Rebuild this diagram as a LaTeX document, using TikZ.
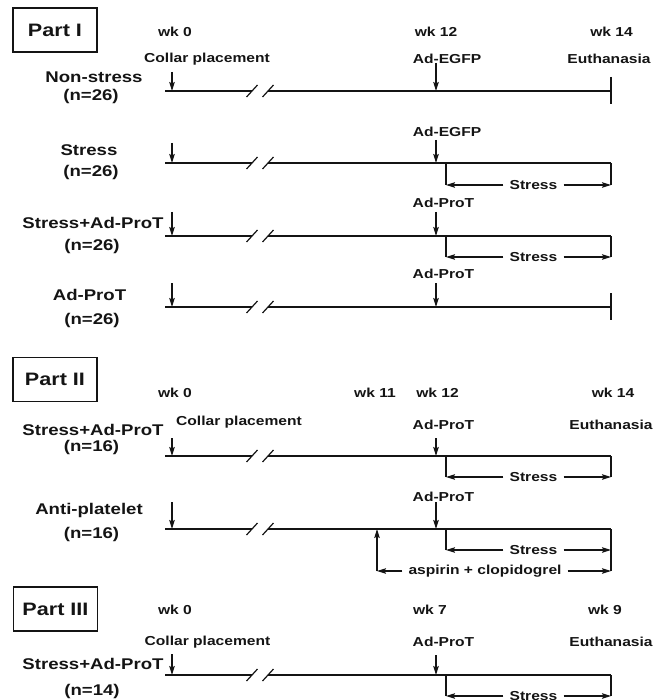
\documentclass[tikz,border=0pt]{standalone}
\usepackage{fontspec}
\setmainfont{Liberation Sans}[FakeStretch=1.2]
\usetikzlibrary{arrows.meta,calc}
\definecolor{ink}{RGB}{20,20,20}
\tikzset{
  every picture/.style={color=ink, x=1pt, y=-1pt},
  part/.style={draw=ink, line width=1.2pt, minimum width=84pt, minimum height=44pt, font=\fontsize{18}{20}\selectfont\bfseries},
  grp/.style={font=\fontsize{15.5}{18}\selectfont\bfseries, inner sep=0pt},
  lbl/.style={font=\fontsize{13}{15}\selectfont\bfseries, inner sep=0pt},
  gap/.style={lbl, inner xsep=6pt},
  tline/.style={line width=2pt},
  cut/.style={line width=1.2pt},
  brk/.style={line width=1.5pt},
  pin/.style={-{Stealth[length=9pt,width=5.5pt,inset=1.5pt]}, line width=1.2pt},
}

\begin{document}
\begin{tikzpicture}
  \useasboundingbox (0,0) rectangle (654,700);
  % part boxes
  \node[part] (P1) at (55,30) {Part I};
  \node[part] (P2) at (55,379.5) {Part II};
  \node[part] (P3) at (55.5,609) {Part III};
  % time axes, broken between wk 0 and the injection
  \foreach \r/\y in {r1/91,r2/163,r3/236,r4/307,r5/456,r6/529,r7/675} {
    \coordinate (\r-s) at (165,\y);
    \coordinate (\r-a) at (252,\y);
    \coordinate (\r-b) at (268,\y);
    \coordinate (\r-e) at (611,\y);
    \draw[tline] (\r-s) -- (\r-a);
    \draw[tline] (\r-b) -- (\r-e);
    \draw[cut] ($(\r-a)+(-5.5,6)$) -- ++(11,-12);
    \draw[cut] ($(\r-b)+(-5.5,6)$) -- ++(11,-12);
  }
  % group names
  \node[grp] (g1) at (94,77) {Non-stress};
  \node[grp] (g1n) at (91,96) {(n=26)};
  \node[grp] (g2) at (89,150) {Stress};
  \node[grp] (g2n) at (91,172) {(n=26)};
  \node[grp] (g3) at (93,223) {Stress+Ad-ProT};
  \node[grp] (g3n) at (92,246) {(n=26)};
  \node[grp] (g4) at (89.5,295) {Ad-ProT};
  \node[grp] (g4n) at (92,320) {(n=26)};
  \node[grp] (g5) at (93,430) {Stress+Ad-ProT};
  \node[grp] (g5n) at (91.5,447) {(n=16)};
  \node[grp] (g6) at (89,510) {Anti-platelet};
  \node[grp] (g6n) at (91.5,534) {(n=16)};
  \node[grp] (g7) at (93,664) {Stress+Ad-ProT};
  \node[grp] (g7n) at (92,691) {(n=14)};
  % weeks
  \node[lbl] (w1a) at (175,32) {wk 0};
  \node[lbl] (w1b) at (436,32) {wk 12};
  \node[lbl] (w1c) at (611.5,32) {wk 14};
  \node[lbl] (w2a) at (175,393) {wk 0};
  \node[lbl] (w2b) at (375,393) {wk 11};
  \node[lbl] (w2c) at (437.5,393) {wk 12};
  \node[lbl] (w2d) at (613,393) {wk 14};
  \node[lbl] (w3a) at (175,610) {wk 0};
  \node[lbl] (w3b) at (430,610) {wk 7};
  \node[lbl] (w3c) at (605,610) {wk 9};
  % events
  \node[lbl] (cp1) at (207,59) {Collar placement};
  \node[lbl] (cp5) at (239,422) {Collar placement};
  \node[lbl] (cp7) at (207.5,642) {Collar placement};
  \node[lbl] (ad1) at (447,59) {Ad-EGFP};
  \node[lbl] (ad2) at (447,132) {Ad-EGFP};
  \node[lbl] (ad3) at (443.5,203) {Ad-ProT};
  \node[lbl] (ad4) at (443.5,274) {Ad-ProT};
  \node[lbl] (ad5) at (443.5,425) {Ad-ProT};
  \node[lbl] (ad6) at (443.5,497) {Ad-ProT};
  \node[lbl] (ad7) at (443.5,642) {Ad-ProT};
  \node[lbl] (eu1) at (609,59) {Euthanasia};
  \node[lbl] (eu5) at (611,425) {Euthanasia};
  \node[lbl] (eu7) at (611,642) {Euthanasia};
  % collar and injection arrows
  \foreach \r/\t in {r1/72,r2/143,r3/212,r4/283,r5/438,r6/502,r7/654} {
    \coordinate (\r-c) at (172,\t);
    \draw[pin] (\r-c) -- (\r-c |- \r-s);
  }
  \foreach \r/\t in {r1/63,r2/140,r3/212,r4/283,r5/438,r6/502,r7/655} {
    \coordinate (\r-i) at (436,\t);
    \draw[pin] (\r-i) -- (\r-i |- \r-s);
  }
  % end ticks
  \foreach \r in {r1,r4}
    \draw[brk] ($(\r-e)+(0,-14)$) -- ($(\r-e)+(0,13)$);
  % stress periods
  \foreach \r/\d in {r2/22,r3/21,r5/21,r6/21,r7/21} {
    \coordinate (\r-l) at ($(\r-e)+(-165,\d)$);
    \coordinate (\r-m) at ($(\r-e)+(0,\d)$);
    \draw[brk] (\r-l) -- (\r-l |- \r-s);
    \draw[brk] (\r-m) -- (\r-e);
    \node[gap, fill=white] (\r-st) at ($(\r-l)!0.53!(\r-m)$) {Stress};
    \draw[pin] (\r-st) -- (\r-l);
    \draw[pin] (\r-st) -- (\r-m);
  }
  % anti-platelet treatment from wk 11
  \coordinate (a6l) at (377,571);
  \coordinate (a6r) at (611,571);
  \draw[brk] (r6-m) -- (a6r);
  \node[gap] (asp) at (485,571) {aspirin + clopidogrel};
  \draw[pin] (asp) -- (a6l);
  \draw[pin] (asp) -- (a6r);
  \draw[pin] (a6l) -- (a6l |- r6-s);
\end{tikzpicture}
\end{document}
